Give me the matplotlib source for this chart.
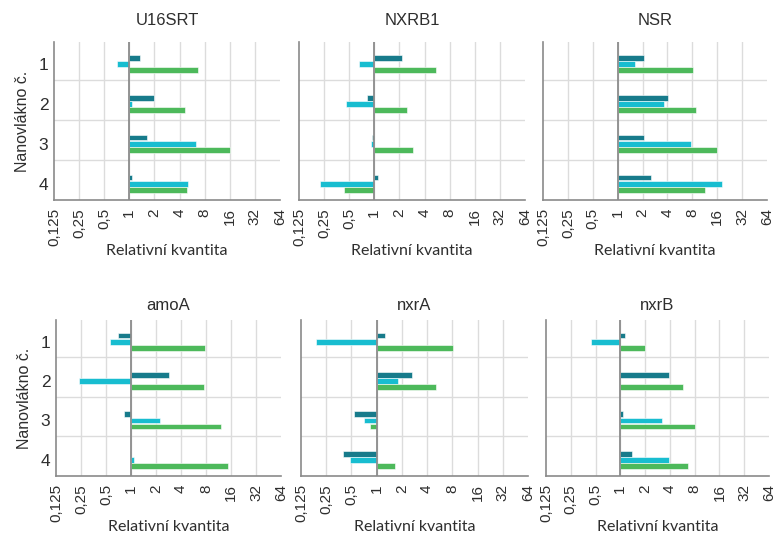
import numpy as np
import matplotlib
matplotlib.use("Agg")
import matplotlib.pyplot as plt
from matplotlib.ticker import FixedLocator, FixedFormatter, NullLocator

# Relative quantity per gene, nanofiber 1..4, three series each
genes = ["U16SRT", "NXRB1", "NSR", "amoA", "nxrA", "nxrB"]
categories = ["1", "2", "3", "4"]

series_dark = {
    "U16SRT": [1.36, 1.98, 1.64, 1.09],
    "NXRB1": [2.13, 0.82, 0.95, 1.11],
    "NSR": [2.09, 4.1, 2.09, 2.51],
    "amoA": [0.70, 2.86, 0.82, 0.96],
    "nxrA": [1.26, 2.66, 0.53, 0.40],
    "nxrB": [1.15, 3.9, 1.07, 1.39],
}
series_cyan = {
    "U16SRT": [0.71, 1.09, 6.36, 5.1],
    "NXRB1": [0.65, 0.46, 0.92, 0.225],
    "NSR": [1.63, 3.67, 7.8, 18.2],
    "amoA": [0.56, 0.235, 2.23, 1.1],
    "nxrA": [0.189, 1.78, 0.71, 0.485],
    "nxrB": [0.445, 0.99, 3.22, 3.9],
}
series_green = {
    "U16SRT": [6.7, 4.6, 16.2, 4.96],
    "NXRB1": [5.44, 2.49, 2.93, 0.437],
    "NSR": [8.1, 8.8, 15.9, 11.5],
    "amoA": [7.77, 7.55, 12.1, 14.9],
    "nxrA": [8.07, 5.1, 0.84, 1.64],
    "nxrB": [2.01, 5.7, 8.07, 6.7],
}

tick_values = [0.125, 0.25, 0.5, 1, 2, 4, 8, 16, 32, 64]
tick_labels = ["0,125", "0,25", "0,5", "1", "2", "4", "8", "16", "32", "64"]

colors = ["#177b8b", "#18bdd0", "#4db95b"]
grid_color = "#dcdcdc"
axis_color = "#8a8a8a"
text_color = "#2e2e2e"

W, H = 775, 538
fig = plt.figure(figsize=(W / 100, H / 100), dpi=100)

# panel rectangles in pixels: (left, top, right, bottom)
rects = [
    (54, 42, 280, 200), (299, 42, 525, 200), (543, 42, 767, 200),
    (56, 320, 281, 476), (301, 320, 528, 476), (546, 320, 769, 476),
]

tick_font = "Liberation Sans"
label_font = "Lato"

bar_h = 0.145
pitch = 0.155

for idx, (gene, (l, t, r, b)) in enumerate(zip(genes, rects)):
    ax = fig.add_axes([l / W, 1 - b / H, (r - l) / W, (b - t) / H])
    ax.set_xscale("log", base=2)
    ax.set_xlim(0.125, 64)
    ax.set_ylim(3.41, -0.55)

    y = np.arange(len(categories))
    for k, data in enumerate([series_dark, series_cyan, series_green]):
        vals = np.array(data[gene])
        ax.barh(y + (k - 1) * pitch, vals - 1, left=1, height=bar_h,
                color=colors[k], edgecolor="white", linewidth=0.4, zorder=3)

    # grid
    for v in tick_values[1:-1]:
        ax.axvline(v, color=grid_color, lw=1.0, zorder=1)
    for s in [0.4, 1.4, 2.4]:
        ax.axhline(s, color=grid_color, lw=1.0, zorder=1)
    ax.axvline(1, color="#8c8c8c", lw=1.3, zorder=4)

    for side in ["top", "right"]:
        ax.spines[side].set_visible(False)
    for side in ["left", "bottom"]:
        ax.spines[side].set_color(axis_color)
        ax.spines[side].set_linewidth(1.2)

    ax.xaxis.set_major_locator(FixedLocator(tick_values))
    ax.xaxis.set_major_formatter(FixedFormatter(tick_labels))
    ax.xaxis.set_minor_locator(NullLocator())
    ax.tick_params(axis="x", length=0, pad=6, labelsize=11, colors=text_color,
                   labelrotation=90)
    for lbl in ax.get_xticklabels():
        lbl.set_fontfamily(tick_font)

    ax.set_yticks(y)
    if idx % 3 == 0:
        ax.set_yticklabels(categories, fontfamily=tick_font, fontsize=12.5,
                           color=text_color)
        ax.set_ylabel("Nanovlákno č.", fontfamily=tick_font, fontsize=11.5,
                      color=text_color, labelpad=6)
    else:
        ax.set_yticklabels([])
    ax.tick_params(axis="y", length=0, pad=4)

    ax.set_xlabel("Relativní kvantita", fontfamily=label_font, fontsize=11.5,
                  color=text_color, labelpad=-2)
    ax.set_title(gene, fontfamily=tick_font, fontsize=12, color=text_color,
                 pad=12 if idx < 3 else 7)

fig.savefig("out.png", dpi=100, facecolor="white")
